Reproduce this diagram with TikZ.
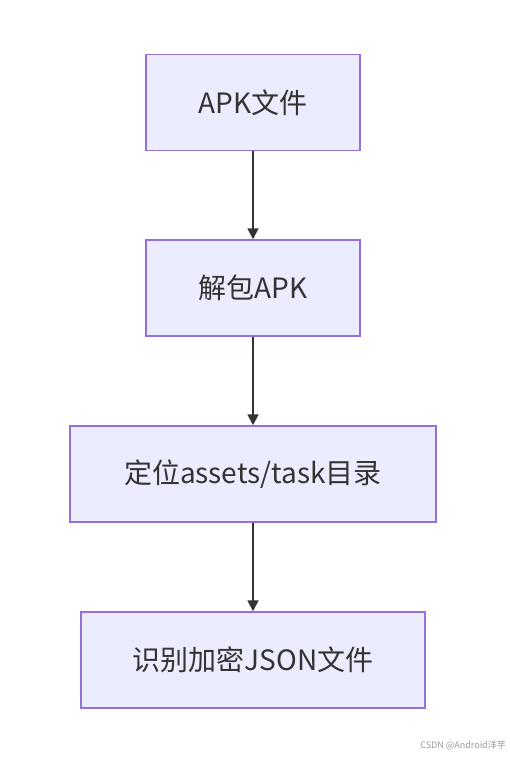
\documentclass[tikz,border=0pt]{standalone}
\usepackage{fontspec}
\setmainfont{Noto Sans CJK SC}
\usetikzlibrary{arrows.meta}
\definecolor{boxfill}{HTML}{ECECFF}
\definecolor{boxline}{HTML}{9370DB}
\definecolor{arrowc}{HTML}{333333}
\tikzset{
  flowbox/.style={draw=boxline, fill=boxfill, line width=1.5bp, rectangle, minimum height=96bp, inner sep=0pt, font=\fontsize{28bp}{33bp}\selectfont, text=arrowc},
  flowarrow/.style={draw=arrowc, line width=1.8bp, -{Triangle[length=11bp,width=11bp]}}
}
\begin{document}
\begin{tikzpicture}[x=1bp,y=-1bp]
\useasboundingbox (0,0) rectangle (510,757);
\node[flowbox, minimum width=214bp] (a) at (253,102.5) {APK文件};
\node[flowbox, minimum width=214bp] (b) at (253,288) {解包APK};
\node[flowbox, minimum width=366bp] (c) at (253,474) {定位assets/task目录};
\node[flowbox, minimum width=344bp] (d) at (253,660) {识别加密JSON文件};
\draw[flowarrow] (a) -- (b);
\draw[flowarrow] (b) -- (c);
\draw[flowarrow] (c) -- (d);
\node[anchor=east, text=black!40, font=\fontsize{9bp}{11bp}\selectfont, inner sep=0pt] (w) at (506,745) {CSDN @Android洋芋};
\end{tikzpicture}
\end{document}
